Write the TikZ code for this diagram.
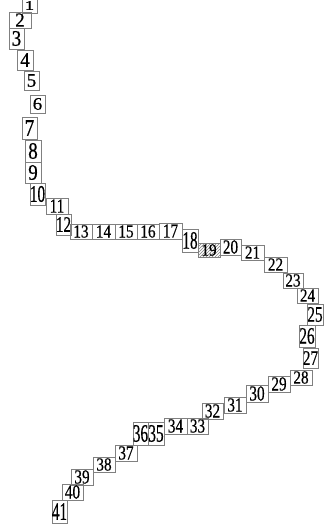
\documentclass[tikz,border=0pt]{standalone}
\usepackage{fontspec}
\setmainfont[FakeBold=0.6]{Liberation Serif}
\usepackage{graphicx}
\usetikzlibrary{patterns}
\tikzset{numbox/.style={draw=gray, line width=0.7pt, inner sep=0pt, font=\fontsize{19}{19}\selectfont}}
\begin{document}
\begin{tikzpicture}[x=1pt,y=-1pt]
\useasboundingbox (0,0) rectangle (335,529);
\clip (0,0) rectangle (335,529);
\foreach \n/\x/\y/\ww/\hh in {
 1/29.5/5.5/14.9/15, 2/20/20/22/16, 3/16.5/38.5/15/21, 4/25/60/16/20, 5/31.5/80.5/15/19,
 6/37.5/104/15/18, 7/29.5/128/15/22, 8/33/151/16/22, 9/33/172.5/16/21, 10/37.5/194/15/22,
 11/57/206/22/16, 12/63.5/224.5/15/21, 13/81/231.5/22/15, 14/103.5/231.5/23/15,
 15/126/231.5/22/15, 16/148/231.5/22/15, 17/170.5/231/23/16, 18/190/240.5/16/23,
 20/230.5/247/21/16, 21/252.5/252.5/23/15, 22/275.5/264.5/23/15,
 23/293/280.5/20/15, 24/307.5/295.5/21/15, 25/315/314.5/16/21, 26/307/336/16/22,
 27/310.5/358/15/20, 28/301/377.5/22/15, 29/279/384/22/16, 30/257/393.5/22/17,
 31/235/405/22/16, 32/212.5/411/21/16, 33/197.5/426/21/16, 34/175.5/426/23/16,
 35/156/433.5/16/23, 36/140.5/433.5/15/23, 37/126/453/22/16, 38/104/464.5/22/15,
 39/82/477/22/16, 40/72.5/492/21/16, 41/59.5/511.5/15/23}{
 \pgfmathsetmacro\sx{\n<10 ? 1.0 : 0.8}
 \pgfmathsetmacro\sy{\ww<\hh ? (\hh-6)/12.84 : (\hh-2.5)/12.84}
 \node[numbox, minimum width=\ww pt, minimum height=\hh pt] (b\n) at (\x,\y) {\scalebox{\sx}[\sy]{\n}};
}
\node[numbox, pattern=north east lines, pattern color=gray, minimum width=22pt, minimum height=14pt] (b19) at (209,250) {\scalebox{0.8}[0.9]{19}};
\end{tikzpicture}
\end{document}
